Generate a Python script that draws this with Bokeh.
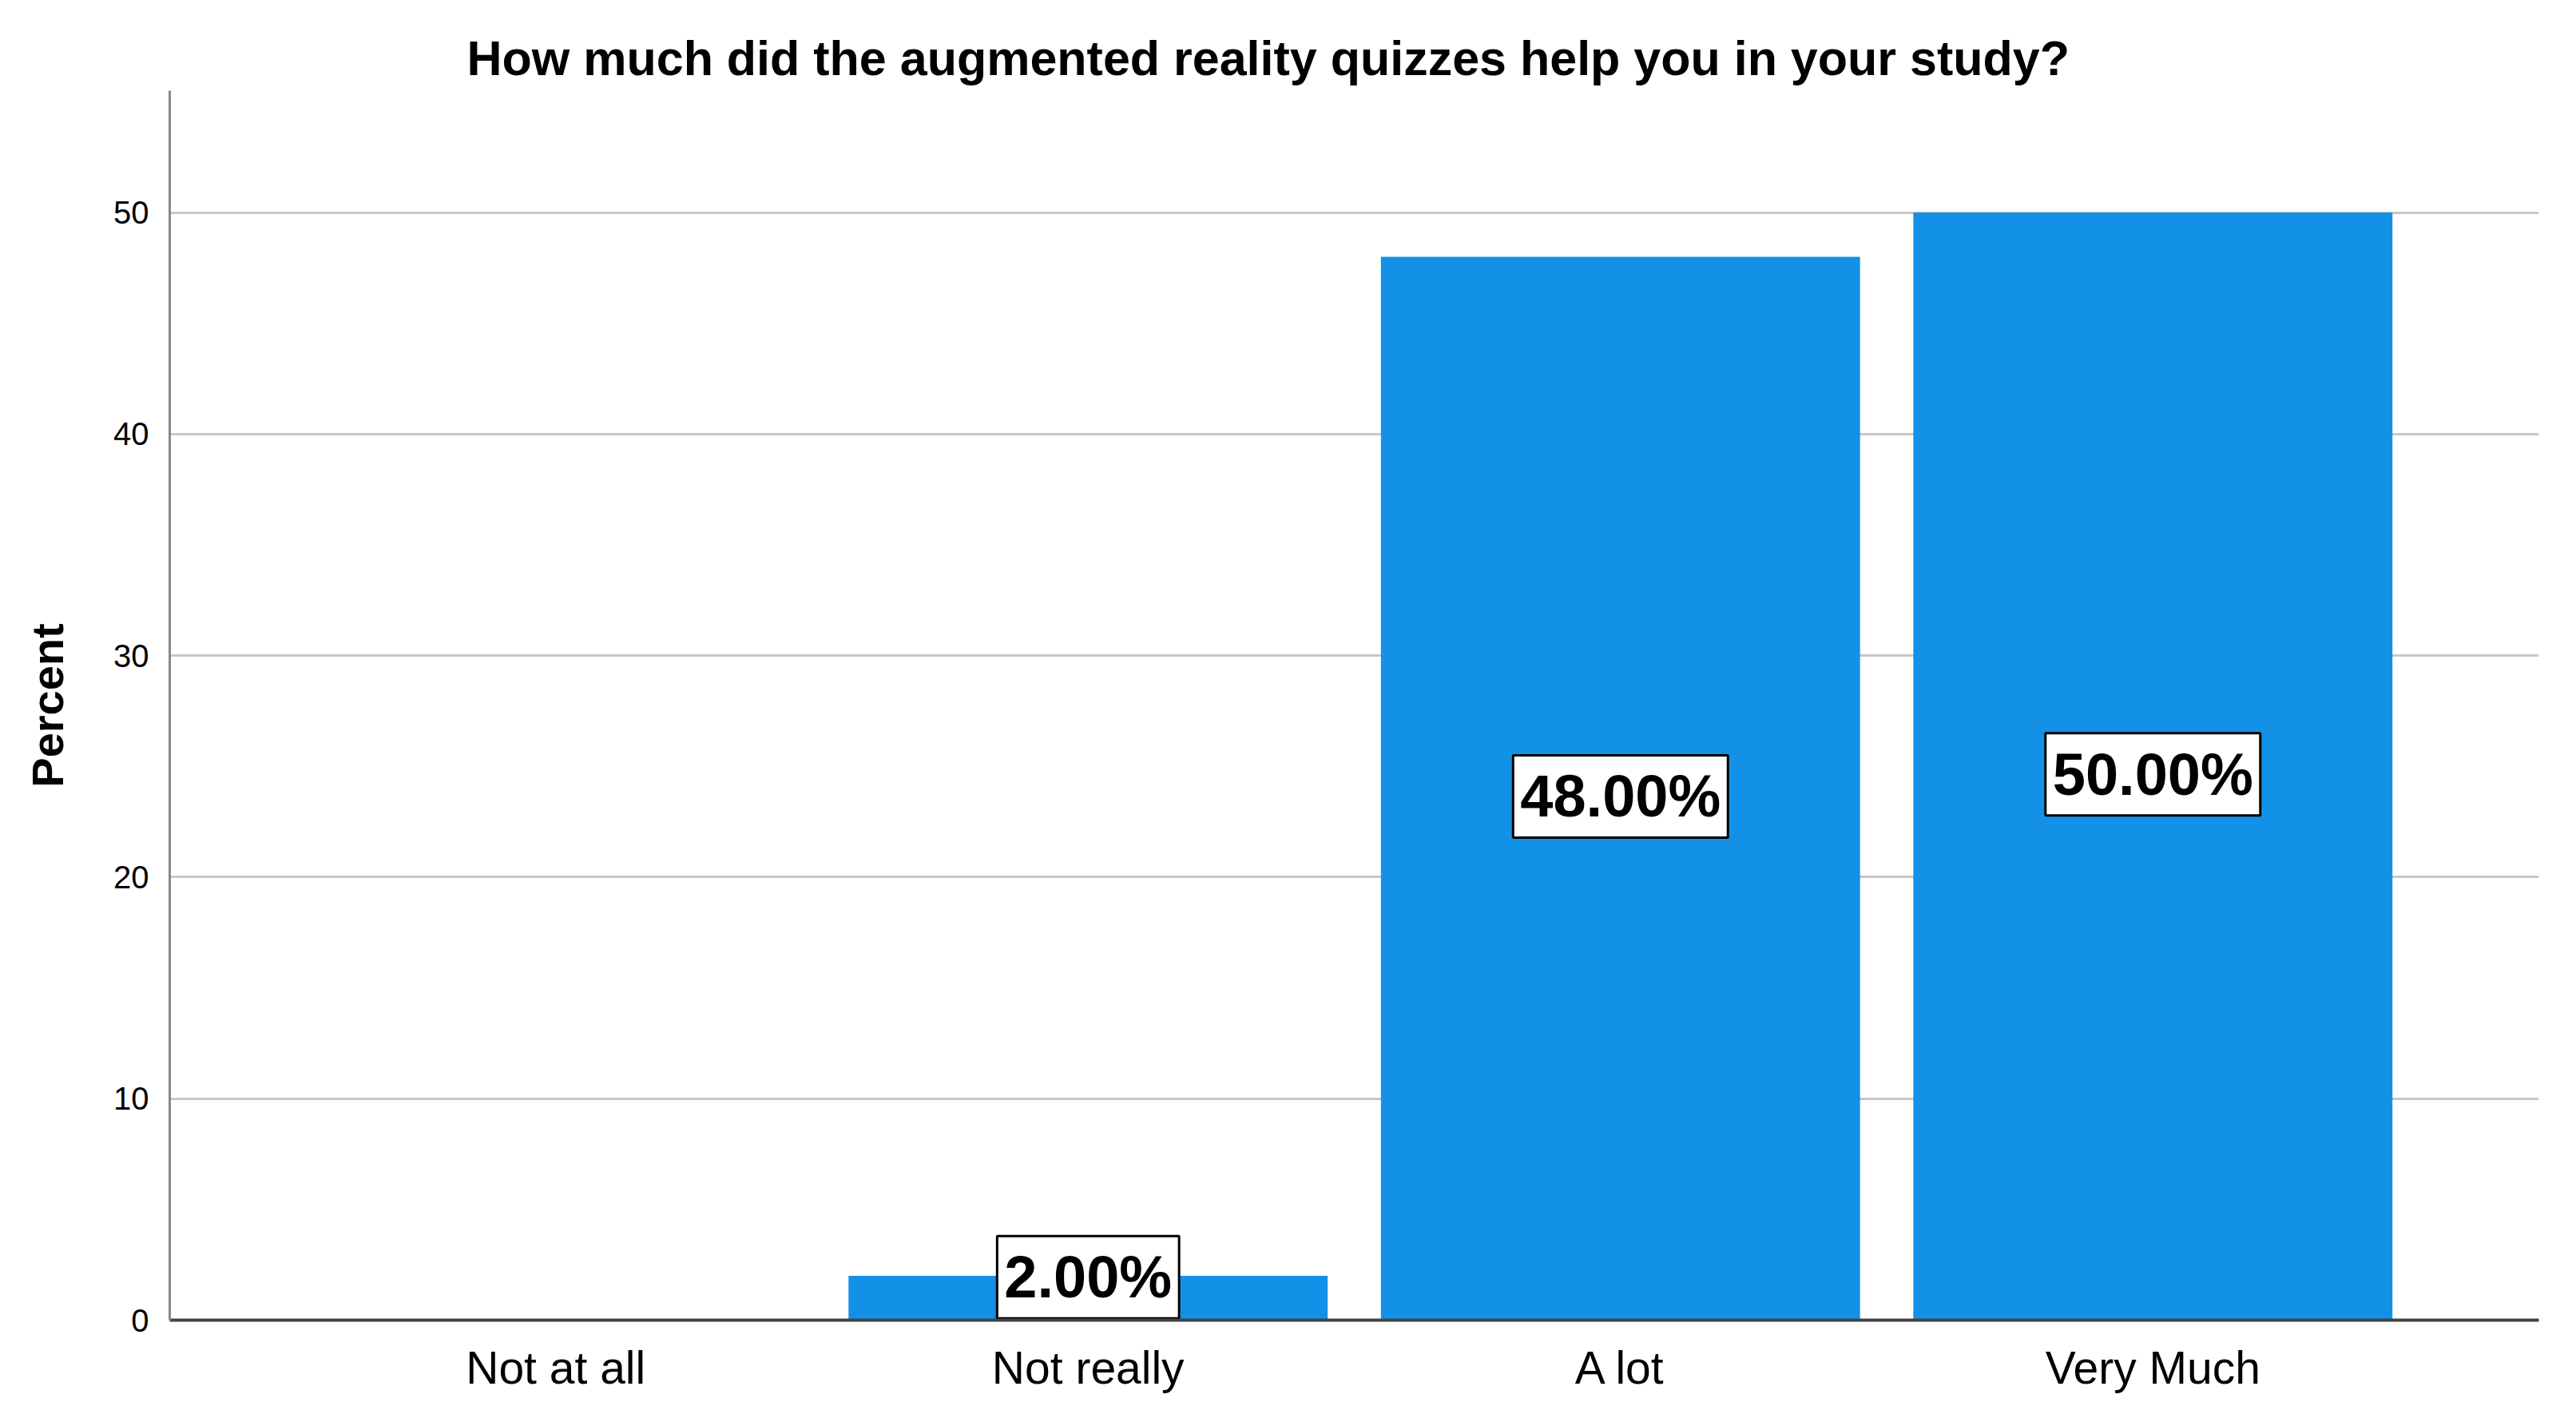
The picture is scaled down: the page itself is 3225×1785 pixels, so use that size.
from bokeh.plotting import figure
from bokeh.models import FactorRange, Range1d, ColumnDataSource, FixedTicker
from bokeh.core.properties import value
from bokeh.embed import file_html
from bokeh.resources import INLINE

categories = ["Not at all", "Not really", "A lot", "Very Much"]
percent = [0.0, 2.0, 48.0, 50.0]
y_ticks = [0, 10, 20, 30, 40, 50]
title_text = "How much did the augmented reality quizzes help you in your study?"

label_cats = [c for c, v in zip(categories, percent) if v > 0]
label_vals = [v for v in percent if v > 0]
label_y = [max(v / 2.0, 2.3) for v in label_vals]
label_txt = ["%.2f%%" % v for v in label_vals]

p = figure(
    x_range=FactorRange(*categories, range_padding=0.225, range_padding_units="absolute"),
    y_range=Range1d(0, 55.5),
    width=3200, height=1760,
    output_backend="svg", toolbar_location=None,
    min_border_left=212, min_border_right=22, min_border_top=113, min_border_bottom=108,
    title=title_text,
)
p.outline_line_color = None
p.background_fill_color = "white"

p.vbar(x=categories, top=percent, width=0.9, fill_color="#1391E6", line_color=None)

src = ColumnDataSource(dict(x=label_cats, y=label_y, t=label_txt))
p.text(
    x="x", y="y", text="t", source=src,
    text_align="center", text_baseline="middle", y_offset=10,
    text_font=value("Liberation Sans"), text_font_style="bold", text_font_size="74px",
    text_color="black",
    background_fill_color="white", border_line_color="black", border_line_width=3,
    padding=(9, 10),
)

p.title.align = "left"
p.title.offset = 372
p.title.standoff = 14
p.title.text_font = "Liberation Sans"
p.title.text_font_style = "bold"
p.title.text_font_size = "61px"
p.title.text_color = "black"

p.xgrid.grid_line_color = None
p.ygrid.grid_line_color = "#c8c8c8"
p.ygrid.grid_line_width = 3
p.yaxis.ticker = FixedTicker(ticks=y_ticks)

for ax in (p.xaxis[0], p.yaxis[0]):
    ax.major_tick_line_color = None
    ax.minor_tick_line_color = None
    ax.major_label_text_font = "Liberation Sans"
    ax.major_label_text_color = "black"

p.yaxis.axis_line_color = "#888888"
p.yaxis.axis_line_width = 3
p.yaxis.major_label_text_font_size = "40px"
p.yaxis.major_label_standoff = 20
p.yaxis.axis_label = "Percent"
p.yaxis.axis_label_text_font = "Liberation Sans"
p.yaxis.axis_label_text_font_style = "bold"
p.yaxis.axis_label_text_font_size = "56px"
p.yaxis.axis_label_text_color = "black"
p.yaxis.axis_label_standoff = 48

p.xaxis.axis_line_color = "#444444"
p.xaxis.axis_line_width = 4
p.xaxis.major_label_text_font_size = "57px"
p.xaxis.major_label_standoff = 21

open("out.html", "w").write(file_html(p, INLINE))
